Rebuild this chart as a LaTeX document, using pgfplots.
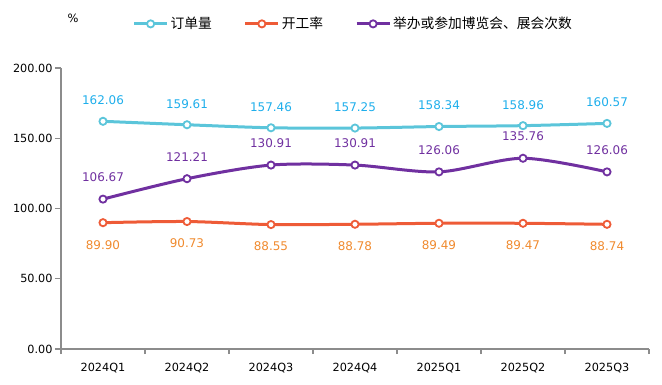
\documentclass[border=0pt]{standalone}
\usepackage{fontspec}
\setmainfont{DejaVu Sans}
\newfontfamily\cjk{Noto Sans CJK SC}
\usepackage{pgfplots}
\pgfplotsset{compat=1.18}
\definecolor{cyanL}{HTML}{5BC5DA}
\definecolor{cyanT}{HTML}{1EAEEB}
\definecolor{oraL}{HTML}{EE5B37}
\definecolor{oraT}{HTML}{F08A2E}
\definecolor{purL}{HTML}{7030A0}
\definecolor{axg}{HTML}{8C8C8C}
\begin{document}
\begin{tikzpicture}
\path[use as bounding box] (-61bp,-36bp) rectangle (601bp,349bp);
\begin{axis}[
  at={(0,0)}, anchor=south west,
  scale only axis, width=588bp, height=281bp,
  xmin=-0.5, xmax=6.5, ymin=0, ymax=200,
  axis x line*=bottom, axis y line*=left,
  axis line style={axg, line width=1.3bp},
  xtick={0,...,6},
  xticklabels={2024Q1,2024Q2,2024Q3,2024Q4,2025Q1,2025Q2,2025Q3},
  major x tick style={draw=none},
  minor xtick={-0.5,0.5,...,6.5},
  tick align=outside,
  tick style={axg, line width=1.3bp},
  major tick length=6bp, minor tick length=5bp,
  ytick={0,50,...,200},
  yticklabel={\pgfmathprintnumber[fixed,fixed zerofill,precision=2]{\tick}},
  /pgf/number format/assume math mode=true,
  ticklabel style={font=\fontsize{11.3}{13}\selectfont, text=black},
  xticklabel style={yshift=-5bp},
  yticklabel style={xshift=1bp},
  legend style={at={(0.497,1.157)}, anchor=center, draw=none, fill=none,
    legend columns=3, font=\cjk\fontsize{13.8}{16}\selectfont,
    /tikz/every even column/.append style={column sep=30bp},
    legend cell align=left},
  legend image code/.code={\draw[mark repeat=2,mark phase=2] plot coordinates {(0bp,0bp) (16.5bp,0bp) (33bp,0bp)};},
  clip=false,
  point meta=explicit symbolic,
  nodes near coords,
]
\addplot[cyanL, line width=3bp, smooth, mark=*, mark size=3.6bp,
  mark options={solid, fill=white, draw=cyanL, line width=1.8bp},
  every node near coord/.style={text=cyanT, font=\fontsize{12}{14}\selectfont, anchor=center, yshift=21bp}]
  coordinates {(0,162.06)[162.06] (1,159.61)[159.61] (2,157.46)[157.46] (3,157.25)[157.25] (4,158.34)[158.34] (5,158.96)[158.96] (6,160.57)[160.57]};
\addlegendentry{订单量}
\addplot[oraL, line width=3bp, smooth, mark=*, mark size=3.6bp,
  mark options={solid, fill=white, draw=oraL, line width=1.8bp},
  every node near coord/.style={text=oraT, font=\fontsize{12}{14}\selectfont, anchor=center, yshift=-22bp}]
  coordinates {(0,89.90)[89.90] (1,90.73)[90.73] (2,88.55)[88.55] (3,88.78)[88.78] (4,89.49)[89.49] (5,89.47)[89.47] (6,88.74)[88.74]};
\addlegendentry{开工率}
\addplot[purL, line width=3bp, smooth, mark=*, mark size=3.6bp,
  mark options={solid, fill=white, draw=purL, line width=1.8bp},
  every node near coord/.style={text=purL, font=\fontsize{12}{14}\selectfont, anchor=center, yshift=22bp}]
  coordinates {(0,106.67)[106.67] (1,121.21)[121.21] (2,130.91)[130.91] (3,130.91)[130.91] (4,126.06)[126.06] (5,135.76)[135.76] (6,126.06)[126.06]};
\addlegendentry{举办或参加博览会、展会次数}
\end{axis}
\node[font=\fontsize{11.5}{13}\selectfont] at (12bp,331bp) {\%};
\end{tikzpicture}
\end{document}
